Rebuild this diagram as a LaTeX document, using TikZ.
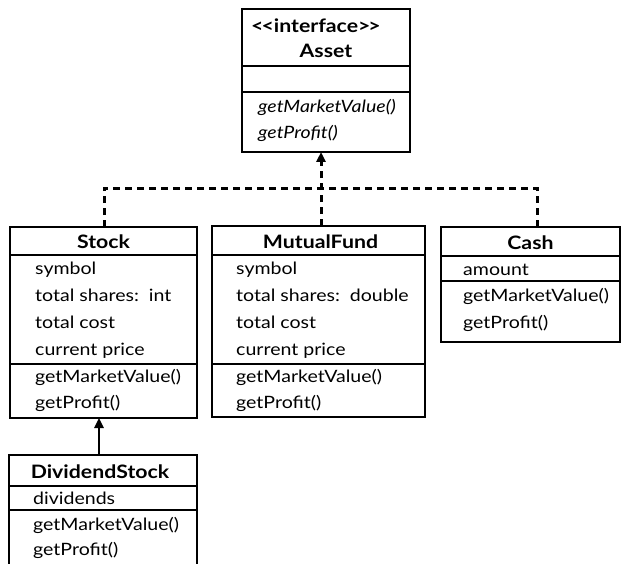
\documentclass[tikz,border=0pt]{standalone}
\usepackage{fontspec}
\setmainfont{Lato}[FakeStretch=1.15]
\usetikzlibrary{arrows.meta}
\begin{document}
\begin{tikzpicture}[x=1pt,y=-1pt,
  box/.style={draw, line width=1.2pt, inner sep=0pt, outer sep=0pt},
  divider/.style={line width=1.2pt},
  txt/.style={anchor=base west, inner sep=0pt, font=\fontsize{17}{17}\selectfont},
  itxt/.style={txt, font=\fontsize{17}{17}\selectfont\itshape},
  head/.style={anchor=base, inner sep=0pt, font=\fontsize{18.5}{18.5}\selectfont\bfseries},
  realize/.style={line width=3pt, dash pattern=on 7pt off 5pt},
  inherit/.style={line width=2.4pt},
  tip/.style={-{Triangle[length=10pt,width=9pt]}}]
\useasboundingbox (0,0) rectangle (623,564);
\clip (0,0) rectangle (623,564);

% interface Asset
\node[box, minimum width=168pt, minimum height=143pt] (asset) at (326,80.5) {};
\draw[divider] (asset.west |- 0,66) -- (asset.east |- 0,66);
\draw[divider] (asset.west |- 0,92) -- (asset.east |- 0,92);
\node[head] (aster) at (316,33) {{<}\kern-2pt{<}interface{>}\kern-2pt{>}};
\node[head] (aname) at (326,58) {Asset};
\node[itxt] (am1) at (258,113) {getMarketValue()};
\node[itxt] (am2) at (258,139) {getProfit()};

% class Stock
\node[box, minimum width=187pt, minimum height=191pt] (stock) at (103.5,322.5) {};
\draw[divider] (stock.west |- 0,255) -- (stock.east |- 0,255);
\draw[divider] (stock.west |- 0,364) -- (stock.east |- 0,364);
\node[head] (sname) at (103.5,248) {Stock};
\node[txt] (sa1) at (35,274) {symbol};
\node[txt] (sa2) at (35,301) {total shares:\ \ int};
\node[txt] (sa3) at (35,328) {total cost};
\node[txt] (sa4) at (35,355) {current price};
\node[txt] (sm1) at (35,382) {getMarketValue()};
\node[txt] (sm2) at (35,408) {getProfit()};

% class MutualFund
\node[box, minimum width=213pt, minimum height=191pt] (fund) at (318.5,321.5) {};
\draw[divider] (fund.west |- 0,255) -- (fund.east |- 0,255);
\draw[divider] (fund.west |- 0,364) -- (fund.east |- 0,364);
\node[head] (fname) at (320.5,248) {MutualFund};
\node[txt] (fa1) at (236,274) {symbol};
\node[txt] (fa2) at (236,301) {total shares:\ \ double};
\node[txt] (fa3) at (236,328) {total cost};
\node[txt] (fa4) at (236,355) {current price};
\node[txt] (fm1) at (236,382) {getMarketValue()};
\node[txt] (fm2) at (236,408) {getProfit()};

% class Cash
\node[box, minimum width=179pt, minimum height=115pt] (cash) at (530.5,284.5) {};
\draw[divider] (cash.west |- 0,256) -- (cash.east |- 0,256);
\draw[divider] (cash.west |- 0,281) -- (cash.east |- 0,281);
\node[head] (cname) at (530.5,249) {Cash};
\node[txt] (ca1) at (463,275) {amount};
\node[txt] (cm1) at (463,301) {getMarketValue()};
\node[txt] (cm2) at (463,328) {getProfit()};

% class DividendStock (continues past the lower edge)
\node[box, minimum width=188pt, minimum height=130pt] (div) at (103,520) {};
\draw[divider] (div.west |- 0,486) -- (div.east |- 0,486);
\draw[divider] (div.west |- 0,510) -- (div.east |- 0,510);
\node[head] (dname) at (100,478) {DividendStock};
\node[txt] (da1) at (33,504) {dividends};
\node[txt] (dm1) at (33,530) {getMarketValue()};
\node[txt] (dm2) at (33,555) {getProfit()};

% realization: dashed bus up to the interface
\coordinate (busL) at (104,188);
\coordinate (busM) at (321,188);
\coordinate (busR) at (537,188);
\draw[realize] (busL |- stock.north) -- (busL) -- (busR) -- (busR |- cash.north);
\draw[realize, tip] (busM |- fund.north) -- (busM |- asset.south);

% inheritance: DividendStock extends Stock
\coordinate (inh) at (99,440);
\draw[inherit, tip] (inh |- div.north) -- (inh |- stock.south);
\end{tikzpicture}
\end{document}
